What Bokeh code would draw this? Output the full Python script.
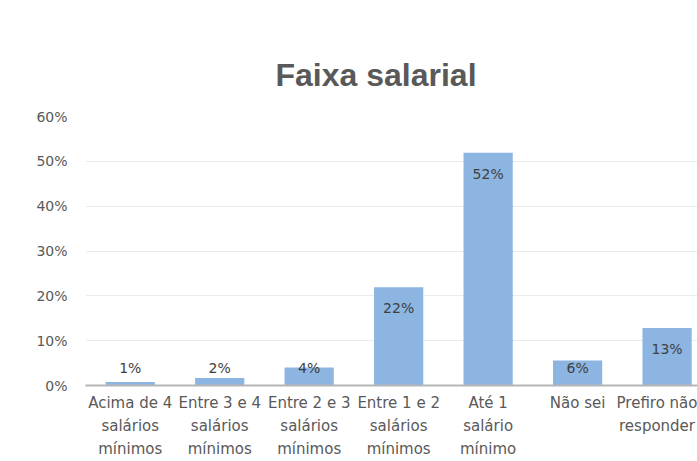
from bokeh.plotting import figure
from bokeh.models import Range1d, FixedTicker, PrintfTickFormatter, ColumnDataSource
from bokeh.embed import file_html
from bokeh.resources import INLINE
from bokeh.core.properties import value
import numpy as np

title_text = "Faixa salarial"
categories = [
    "Acima de 4\nsalários\nmínimos",
    "Entre 3 e 4\nsalários\nmínimos",
    "Entre 2 e 3\nsalários\nmínimos",
    "Entre 1 e 2\nsalários\nmínimos",
    "Até 1\nsalário\nmínimo",
    "Não sei",
    "Prefiro não\nresponder",
]
shares = [0.8, 1.7, 4.0, 21.9, 51.9, 5.6, 12.8]
y_ticks = [0, 10, 20, 30, 40, 50, 60]

xs = np.arange(len(categories)) + 0.5
labels = [f"{round(v):d}%" for v in shares]
label_y = np.maximum(np.array(shares) - 4.7, 3.8)

src = ColumnDataSource(dict(x=xs, top=shares, lab=labels, ly=label_y))

p = figure(width=697, height=461, output_backend="svg", toolbar_location=None,
           x_range=Range1d(0, 6.84), y_range=Range1d(0, 60),
           min_border_left=85, min_border_right=0, min_border_top=116,
           min_border_bottom=0)
p.background_fill_color = "white"
p.border_fill_color = "white"
p.outline_line_color = None

p.title.text = title_text
p.title.text_font = "Liberation Sans"
p.title.text_font_style = "bold"
p.title.text_font_size = "32px"
p.title.text_color = "#595959"
p.title.align = "left"
p.title.offset = 190
p.title.standoff = 47

p.vbar(x="x", top="top", width=0.55, bottom=0, source=src,
       fill_color="#8CB5E2", line_color=None)
p.text(x="x", y="ly", text="lab", source=src, text_align="center",
       text_baseline="middle", text_font=value("DejaVu Sans"),
       text_font_size="14px", text_color="#404040")

p.yaxis.ticker = FixedTicker(ticks=y_ticks)
p.yaxis.formatter = PrintfTickFormatter(format="%d%%")
p.yaxis.axis_line_color = None
p.yaxis.major_tick_line_color = None
p.yaxis.major_tick_out = 0
p.yaxis.major_tick_in = 0
p.yaxis.minor_tick_line_color = None
p.yaxis.major_label_standoff = 18
p.yaxis.major_label_text_font = "DejaVu Sans"
p.yaxis.major_label_text_font_size = "14px"
p.yaxis.major_label_text_color = "#595959"

p.xaxis.ticker = FixedTicker(ticks=list(xs))
p.xaxis.major_label_overrides = {float(x): c for x, c in zip(xs, categories)}
p.xaxis.axis_line_color = "#B5B5B5"
p.xaxis.axis_line_width = 2
p.xaxis.major_tick_line_color = None
p.xaxis.major_tick_out = 0
p.xaxis.major_tick_in = 0
p.xaxis.minor_tick_line_color = None
p.xaxis.major_label_standoff = 8
p.xaxis.major_label_text_font = "DejaVu Sans"
p.xaxis.major_label_text_font_size = "15px"
p.xaxis.major_label_text_color = "#595959"
p.xaxis.major_label_text_line_height = 1.3

p.xgrid.grid_line_color = None
p.ygrid.ticker = FixedTicker(ticks=y_ticks)
p.ygrid.grid_line_color = "#EBEBEB"
p.ygrid.grid_line_width = 1

open("out.html", "w").write(file_html(p, INLINE))
